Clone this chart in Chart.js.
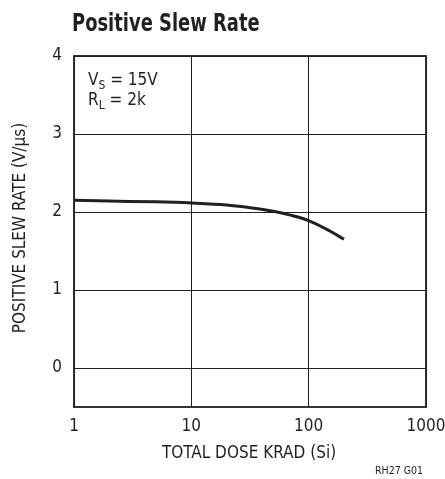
<!DOCTYPE html>
<html>
<head>
<meta charset="utf-8">
<script src="https://cdn.jsdelivr.net/npm/chart.js@4/dist/chart.umd.min.js"></script>
<style>
  html,body{margin:0;padding:0;background:#fff;}
  #wrap{width:445px;height:479px;position:relative;}
</style>
</head>
<body>
<div id="wrap"><canvas id="c" width="445" height="479"></canvas></div>
<script>
// data
const doseKrad = [1, 2, 5, 10, 20, 30, 50, 70, 100, 150, 200];
const slewRate = [2.15, 2.14, 2.13, 2.115, 2.09, 2.06, 2.01, 1.96, 1.89, 1.76, 1.65];
const xTickValues = [1, 10, 100, 1000];
const yTickValues = [0, 1, 2, 3, 4];

const FONT = '"Liberation Sans Narrow", "DejaVu Sans Condensed", sans-serif';
const INK = '#231f20';

// titles, notes and frame
const decor = {
  id: 'decor',
  afterDraw(chart){
    const {ctx, chartArea: a} = chart;
    ctx.save();
    ctx.strokeStyle = INK; ctx.lineWidth = 1.8;
    ctx.strokeRect(a.left, a.top, a.right - a.left, a.bottom - a.top);
    ctx.fillStyle = INK;
    ctx.textBaseline = 'alphabetic';

    // condensed bold heading
    ctx.save();
    ctx.translate(72, 31);
    ctx.scale(0.83, 1);
    ctx.font = 'bold 24px ' + FONT;
    ctx.fillText('Positive Slew Rate', 0, 0);
    ctx.restore();

    // V_S = 15V / R_L = 2k
    ctx.font = '17px ' + FONT;
    let x = 88;
    ctx.fillText('V', x, 85); x += ctx.measureText('V').width;
    ctx.font = '12px ' + FONT;
    ctx.fillText('S', x, 89); x += ctx.measureText('S').width;
    ctx.font = '17px ' + FONT;
    ctx.fillText(' = 15V', x, 85);
    x = 88;
    ctx.fillText('R', x, 105); x += ctx.measureText('R').width;
    ctx.font = '12px ' + FONT;
    ctx.fillText('L', x, 109); x += ctx.measureText('L').width;
    ctx.font = '17px ' + FONT;
    ctx.fillText(' = 2k', x, 105);

    ctx.textAlign = 'center';
    ctx.fillText('TOTAL DOSE KRAD (Si)', 249, 458);
    ctx.save();
    ctx.translate(25, 228);
    ctx.rotate(-Math.PI / 2);
    ctx.fillText('POSITIVE SLEW RATE (V/\u03bcs)', 0, 0);
    ctx.restore();

    ctx.textAlign = 'right';
    ctx.font = '10.5px ' + FONT;
    ctx.fillText('RH27 G01', 423, 474);
    ctx.restore();
  }
};

new Chart(document.getElementById('c'), {
  type: 'line',
  data: {
    labels: doseKrad,
    datasets: [{
      data: doseKrad.map((d, i) => ({x: d, y: slewRate[i]})),
      borderColor: INK,
      borderWidth: 3,
      pointRadius: 0,
      cubicInterpolationMode: 'monotone',
      fill: false
    }]
  },
  options: {
    responsive: false,
    animation: false,
    events: [],
    layout: {padding: {top: 56, right: 19, left: 0, bottom: 0}},
    plugins: {legend: {display: false}, tooltip: {enabled: false}, title: {display: false}},
    scales: {
      x: {
        type: 'logarithmic',
        min: 1, max: 1000,
        afterBuildTicks: s => { s.ticks = xTickValues.map(v => ({value: v})); },
        afterFit: s => { s.height = 72; s.paddingLeft = 0; s.paddingRight = 0; },
        grid: {color: INK, lineWidth: 1, drawTicks: false},
        border: {display: false},
        ticks: {
          color: INK, padding: 9, maxRotation: 0, autoSkip: false,
          font: {family: FONT, size: 17},
          callback: v => String(v)
        }
      },
      y: {
        type: 'linear',
        min: -0.5, max: 4,
        afterBuildTicks: s => { s.ticks = yTickValues.map(v => ({value: v})); },
        afterFit: s => { s.width = 74; },
        grid: {color: INK, lineWidth: 1, drawTicks: false},
        border: {display: false},
        ticks: {
          color: INK, padding: 12,
          font: {family: FONT, size: 17},
          callback: v => String(v)
        }
      }
    }
  },
  plugins: [decor]
});
</script>
</body>
</html>
